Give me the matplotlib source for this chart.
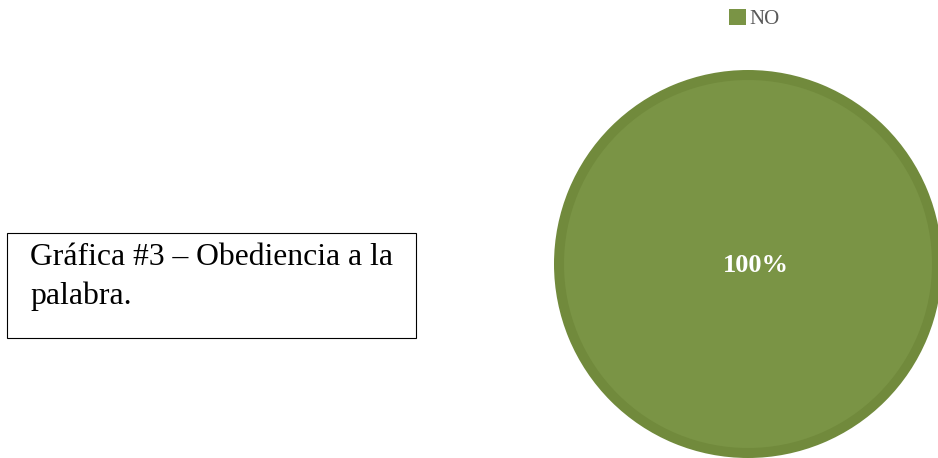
import matplotlib.pyplot as plt
from matplotlib.patches import Rectangle, Patch

# Data
labels = ['NO']
values = [100]
colors = ['#7a9445']
edge_color = '#718a3c'
title_lines = ['Gráfica #3 – Obediencia a la', 'palabra.']

W, H = 938, 458
fig = plt.figure(figsize=(W / 100, H / 100), dpi=100)

# Pie axes (pixel geometry converted to figure fractions)
cx, cy, box = 748, H - 264, 400
ax = fig.add_axes([(cx - box / 2) / W, (cy - box / 2) / H, box / W, box / H])
r_px = 189
wedges, texts, autotexts = ax.pie(values, colors=colors, startangle=90, counterclock=False,
                                  autopct='%1.0f%%', pctdistance=0.0,
                                  wedgeprops=dict(edgecolor=edge_color, linewidth=7.2),
                                  textprops=dict(color='white', fontsize=19, fontweight='bold',
                                                 family='Liberation Serif'))
lim = (box / 2) / r_px
ax.set_xlim(-lim, lim)
ax.set_ylim(-lim, lim)
ax.set_aspect('equal')
ax.axis('off')
for t in autotexts:
    t.set_position((0.04, -0.01))

# Legend at top (plain square handles)
handles = [Patch(facecolor=c, edgecolor='none') for c in colors]
fig.legend(handles, labels, loc='center left', bbox_to_anchor=(729 / W, 439 / H),
           frameon=False, handlelength=0.8, handleheight=0.8, handletextpad=0.2,
           borderpad=0, borderaxespad=0, prop=dict(family='Liberation Serif', size=15),
           labelcolor='#595959')

# Caption box on the left
fig.patches.append(Rectangle((7 / W, 120 / H), 409 / W, 105 / H, transform=fig.transFigure,
                             facecolor='white', edgecolor='black', linewidth=0.8))
fig.text(30 / W, (H - 265) / H, title_lines[0], fontsize=22.8, family='Liberation Serif',
         va='baseline', ha='left')
fig.text(30 / W, (H - 304) / H, title_lines[1], fontsize=22.8, family='Liberation Serif',
         va='baseline', ha='left')

plt.savefig('out.png', dpi=100)
